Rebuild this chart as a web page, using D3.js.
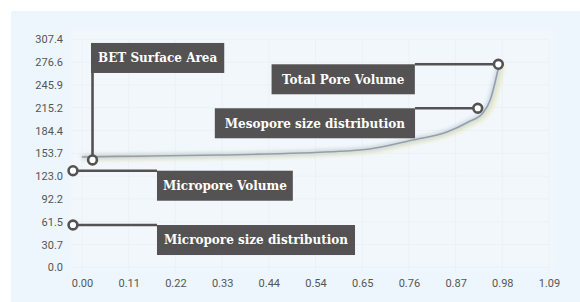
<!DOCTYPE html>
<html>
<head>
<meta charset="utf-8">
<script src="https://cdn.jsdelivr.net/npm/d3@7"></script>
<style>
  body { margin: 0; background: #fff; }
  .tick text { font-family: Roboto, "Noto Sans", sans-serif; font-size: 11px; fill: #555; }
  .note text { font-family: "DejaVu Serif", serif; font-weight: bold; font-size: 12px; fill: #fff; }
</style>
</head>
<body>
<svg id="chart" width="580" height="302"></svg>
<script>
  // axis ticks (value, label)
  const xTicks = [0, 0.1088, 0.2176, 0.3264, 0.4352, 0.544, 0.6528, 0.7616, 0.8704, 0.9792, 1.088];
  const xTickLabels = ["0.00", "0.11", "0.22", "0.33", "0.44", "0.54", "0.65", "0.76", "0.87", "0.98", "1.09"];
  const yTicks = [0, 30.74, 61.48, 92.21, 122.95, 153.69, 184.43, 215.17, 245.9, 276.64, 307.38];
  const yTickLabels = ["0.0", "30.7", "61.5", "92.2", "123.0", "153.7", "184.4", "215.2", "245.9", "276.6", "307.4"];

  // isotherm curve
  const isoX = [0, 0.08, 0.16, 0.32, 0.51, 0.67, 0.77, 0.85, 0.90, 0.934, 0.951, 0.962, 0.969, 0.972];
  const isoY = [148.7, 149.5, 150, 151.4, 154.1, 159.5, 171.6, 182.4, 195.9, 208, 225.6, 248.5, 266, 274];

  // annotations
  const noteLabels = ["BET Surface Area", "Micropore Volume", "Micropore size distribution", "Total Pore Volume", "Mesopore size distribution"];
  const noteX = [0.0245, -0.021, -0.021, 0.970, 0.922];
  const noteY = [144.7, 130.2, 57.0, 273.7, 214.4];

  const svg = d3.select("#chart");
  const width = 580, height = 302;

  const x = d3.scaleLinear().domain([0, 1.088]).range([82, 549]);
  const y = d3.scaleLinear().domain([0, 307.38]).range([267.3, 39.3]);

  const defs = svg.append("defs");
  defs.append("filter").attr("id", "soft").attr("x", "-10%").attr("y", "-10%").attr("width", "120%").attr("height", "120%")
    .append("feGaussianBlur").attr("stdDeviation", 2.2);
  defs.append("filter").attr("id", "thin")
    .append("feGaussianBlur").attr("stdDeviation", 0.7);

  // light blue panel
  svg.append("rect").attr("x", 11).attr("y", 11).attr("width", width - 11).attr("height", height - 11)
    .attr("fill", "#edf5fd");

  // washed-out plot area behind
  svg.append("rect")
    .attr("x", x(0) - 12).attr("y", y(307.38) - 11)
    .attr("width", x(1.088) - x(0) + 18).attr("height", y(0) - y(307.38) + 14)
    .attr("fill", "#f2f7fc").attr("filter", "url(#soft)");

  const grid = svg.append("g").attr("stroke", "#e2eaf2").attr("stroke-width", 1).attr("opacity", 0.45)
    .attr("filter", "url(#thin)");
  grid.selectAll("line.h").data(yTicks).join("line")
    .attr("x1", x(0) - 10).attr("x2", x(1.088))
    .attr("y1", d => y(d)).attr("y2", d => y(d));
  grid.selectAll("line.v").data(xTicks).join("line")
    .attr("x1", d => x(d)).attr("x2", d => x(d))
    .attr("y1", y(307.38)).attr("y2", y(0) + 4);

  // axes
  svg.append("g").attr("transform", "translate(63,0)")
    .call(d3.axisLeft(y).tickValues(yTicks).tickFormat((d, i) => yTickLabels[i]).tickSize(0).tickPadding(0));
  const xAxis = svg.append("g").attr("transform", `translate(0,${y(0) + 12})`)
    .call(d3.axisBottom(x).tickValues(xTicks).tickFormat((d, i) => xTickLabels[i]).tickSize(0).tickPadding(0));
  svg.selectAll(".domain").remove();
  xAxis.selectAll("text").attr("dy", "0.71em");

  // curve
  const pts = d3.zip(isoX, isoY);
  const line = d3.line().x(d => x(d[0])).y(d => y(d[1])).curve(d3.curveMonotoneX);
  svg.append("path").datum(pts).attr("d", line)
    .attr("fill", "none").attr("stroke", "#eee7a6").attr("stroke-width", 5)
    .attr("transform", "translate(3,1)").attr("filter", "url(#soft)").attr("opacity", 0.7);
  svg.append("path").datum(pts.filter(d => d[0] < 0.3)).attr("d", line)
    .attr("fill", "none").attr("stroke", "#f2c898").attr("stroke-width", 4)
    .attr("filter", "url(#soft)").attr("opacity", 0.8);
  svg.append("path").datum(pts).attr("d", line)
    .attr("fill", "none").attr("stroke", "#c4d3e4").attr("stroke-width", 4)
    .attr("filter", "url(#soft)");
  svg.append("path").datum(pts).attr("d", line)
    .attr("fill", "none").attr("stroke", "#959fab").attr("stroke-width", 1.6)
    .attr("filter", "url(#thin)");

  // annotation layout: box offset from the point, anchor side
  const boxDx = [-1.5, 84, 84, -83.5, -62.7];
  const boxDy = [-117, 0, 0, 0, 0];
  const boxSide = ["left", "left", "left", "right", "right"];
  const boxPad = [7, 6, 7, 10.5, 10];
  const boxH = 30;
  const ink = "#545252";

  const notes = svg.append("g").attr("class", "note");
  noteLabels.forEach((label, i) => {
    const px = x(noteX[i]), py = y(noteY[i]);
    const g = notes.append("g");
    const rect = g.append("rect").attr("fill", ink);
    const t = g.append("text").text(label).attr("dy", "0.36em");
    const w = t.node().getComputedTextLength() + 2 * boxPad[i];
    const edge = px + boxDx[i];
    const bx = boxSide[i] === "left" ? edge : edge - w;
    const by = py + boxDy[i];
    rect.attr("x", bx).attr("y", by).attr("width", w).attr("height", boxH);
    t.attr("x", bx + boxPad[i]).attr("y", by + boxH / 2);
    if (boxDy[i] !== 0) {
      g.insert("line", "rect").attr("x1", px).attr("y1", py).attr("x2", px).attr("y2", by)
        .attr("stroke", ink).attr("stroke-width", 2.6);
    } else {
      g.insert("line", "rect").attr("x1", px).attr("y1", py).attr("x2", edge).attr("y2", py)
        .attr("stroke", ink).attr("stroke-width", 2.6);
    }
    g.append("circle").attr("cx", px).attr("cy", py).attr("r", 4.4)
      .attr("fill", "#fff").attr("stroke", ink).attr("stroke-width", 2.6);
  });
</script>
</body>
</html>
